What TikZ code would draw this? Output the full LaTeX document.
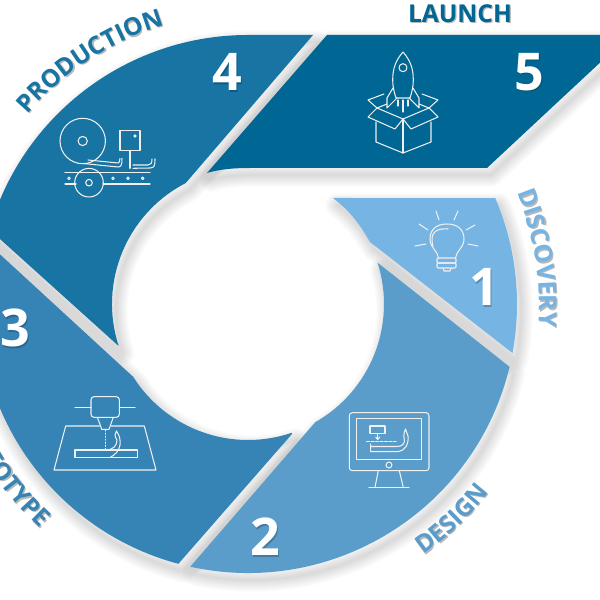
\documentclass[tikz,border=0pt]{standalone}
\usepackage{fontspec}
\setmainfont{Open Sans}
\usetikzlibrary{decorations.text}
\definecolor{cA}{HTML}{76B4E4}
\definecolor{cB}{HTML}{5A9DCB}
\definecolor{cC}{HTML}{3684B6}
\definecolor{cD}{HTML}{1774A3}
\definecolor{cE}{HTML}{006693}
\newcommand\lblfont{\fontsize{24.6}{24.6}\selectfont\bfseries}
\def\segA{(333,402) -- ([shift={(23.2:269)}]248,296) arc[start angle=23.2,end angle=-10.5,radius=269pt] -- (370,358) .. controls (364,368) and (355,385) .. cycle}
\def\segB{(378,337) -- ([shift={(-13.5:269)}]248,296) arc[start angle=-13.5,end angle=-102.4,radius=269pt] -- ([shift={(-60.4:136)}]248,296) arc[start angle=-60.4,end angle=17.5,radius=136pt] -- cycle}
\def\segC{(292,166) -- ([shift={(255:269)}]248,296) arc[start angle=255,end angle=190,radius=269pt] -- (-20,364) -- ([shift={(212.4:136)}]248,296) arc[start angle=212.4,end angle=288.7,radius=136pt] -- cycle}
\def\segD{(313,565) -- ([shift={(117.3:136)}]248,296) arc[start angle=117.3,end angle=198,radius=136pt] -- (-20,379) -- ([shift={(170:269)}]248,296) arc[start angle=170,end angle=90,radius=269pt] -- cycle}
\def\segE{(327,565) -- (620,565) -- (620,556) -- (487,432) -- (250,432) .. controls (235,432) and (220,431) .. (207,427) -- cycle}
\newcommand\softshadow[1]{%
  \begin{scope}[shift={(4,-7)}]
    \foreach \w in {2,4,...,24} {\draw[black,draw opacity=.012,line width=\w pt,line join=round] #1;}
  \end{scope}}
\newcommand\curvelabel[5]{%
  \path[shift={(1.2,-1.2)},decorate,decoration={text along path,text align=center,text={|\lblfont\color{black!28}|#2}}] ([shift={(#4:#3)}]248,296) arc[start angle=#4,end angle=#5,radius=#3 pt];
  \path[decorate,decoration={text along path,text align=center,text={|\lblfont\color{#1}|#2}}] ([shift={(#4:#3)}]248,296) arc[start angle=#4,end angle=#5,radius=#3 pt];}
\tikzset{
  numtext/.style={font=\fontsize{52}{52}\selectfont\bfseries,text=white,inner sep=0pt},
  numshadow/.style={font=\fontsize{52}{52}\selectfont\bfseries,text=black,text opacity=.22,inner sep=0pt},
  ico/.style={draw=white!94!black,line width=1.05pt,line join=round,line cap=round}
}
\begin{document}
\begin{tikzpicture}[x=1pt,y=1pt]
\useasboundingbox (0,0) rectangle (600,600);
\clip (0,0) rectangle (600,600);
\fill[white] (0,0) rectangle (600,600);
\softshadow{\segE}\softshadow{\segD}\softshadow{\segC}\softshadow{\segB}\softshadow{\segA}
\fill[cA] \segA;
\fill[cB] \segB;
\fill[cC] \segC;
\fill[cD] \segD;
\fill[cE] \segE;
% labels
\curvelabel{cA}{DISCOVERY}{291}{34}{-16}
\curvelabel{cD}{PRODUCTION}{291}{153}{93}
\curvelabel{cB}{DESIGN}{306}{-76.5}{-16.5}
\curvelabel{cC}{PROTOTYPE}{306}{183.7}{243.7}
\node[inner sep=0pt,font=\lblfont,text=black!28] (launchs) at (461.2,584.8) {LAUNCH};
\node[inner sep=0pt,font=\lblfont,text=cE] (launch) at (460,586) {LAUNCH};
% numbers
\foreach \n/\x/\y in {1/484/313,2/265/63,3/15/272,4/227/528,5/529/528}{
  \node[numshadow] (ns\n) at (\x+1.2,\y-1.5) {\n};
  \node[numtext] (n\n) at (\x,\y) {\n};
}
% icons in reference pixel coordinates
\begin{scope}[shift={(0,600)},yscale=-1,every path/.append style={ico}]
% bulb
\draw (438.5,258) .. controls (438,251) and (430,248) .. (430,239) .. controls (430,229) and (437,224) .. (447,224) .. controls (457,224) and (464,229) .. (464,239) .. controls (464,248) and (456,251) .. (455.5,258);
\draw (433,246) .. controls (429,232) and (437,228) .. (448,229);
\draw[rounded corners=1pt] (437,258) rectangle (456,263);
\draw[rounded corners=1pt] (437,263) rectangle (456,268);
\draw (443,268) -- (444,271) -- (450,271) -- (451,268);
\draw (436,211) -- (439,220); \draw (458,211) -- (454,220);
\draw (419,224) -- (428,230); \draw (475,225) -- (466,230);
\draw (415,246) -- (426,244); \draw (478,246) -- (468,244);
% rocket
\draw (403,52) .. controls (396,60) and (392.7,68) .. (392.7,80) .. controls (392.7,86) and (394,92) .. (396,98) -- (410,98) .. controls (412,92) and (413.3,86) .. (413.3,80) .. controls (413.3,68) and (410,60) .. (403,52);
\draw (403,67.7) circle (4);
\draw (393,88) -- (387,98) -- (387,108) -- (397,98);
\draw (413,88) -- (419,98) -- (419,108) -- (409,98);
\draw (398,100) -- (398,106); \draw (403,100) -- (403,112); \draw (408,100) -- (408,106);
% box
\draw (384,94) -- (368,100) -- (377,108) -- (387,104);
\draw (422,94) -- (438,100) -- (429,108) -- (419,104);
\draw (377,108) -- (368,117) -- (395,129) -- (403,119) -- cycle;
\draw (429,108) -- (438,117) -- (411,129) -- (403,119) -- cycle;
\draw (376,122) -- (376,142) -- (403,153) -- (431,142) -- (431,122);
\draw (403,119) -- (403,153);
% production
\draw (82.7,141) circle (22.7);
\draw (82.7,141) circle (4.6);
\draw (120,130.7) rectangle (140,150.7);
\draw (135,136) circle (1.2);
\draw (130,150.7) -- (130,168.3);
\draw (83,163.5) -- (118,167) .. controls (121,167) and (122,165) .. (122,158.5);
\draw (88,160) -- (118,163) .. controls (119,163) and (120,161) .. (120,158.5);
\draw (133,168.3) -- (150,168) .. controls (154,168) and (155,166) .. (155,159);
\draw (133,165) -- (148,165) .. controls (151,165) and (152,163) .. (152,159);
\draw (65,172.3) -- (150,172.3);
\draw (65,184) -- (76,184); \draw (103,184) -- (150,184);
\draw (89,182.7) circle (14.3);
\draw (89,182.7) circle (3.3);
\foreach \x in {69,113,128,142.7}{\draw (\x,178.3) circle (1.3);}
% prototype
\draw[rounded corners=3pt] (91,396.7) rectangle (119.3,417.3);
\draw (75,407.7) -- (91,407.7); \draw (119.3,407.7) -- (135,407.7);
\draw (97.3,417.3) -- (99.5,423) -- (101.7,429.3) -- (109,429.3) -- (113.3,417.3);
\draw (99.5,426) -- (65.7,426) -- (54,470) -- (156,470) -- (144.3,426) -- (111,426);
\draw[dotted] (105.3,430) -- (105.3,450);
\draw (75,450) rectangle (137.3,457.7);
\draw (105.3,450) .. controls (113,450) and (117,446) .. (117,440) .. controls (114,436) and (115,433) .. (116.5,431) .. controls (120,436) and (120.5,441) .. (120,445) .. controls (119,451) and (115,455) .. (110,457.5);
% monitor
\draw[rounded corners=3pt] (349.3,412.7) rectangle (429,470.7);
\draw (356.7,418.3) rectangle (421.7,459.3);
\draw (389,465) circle (3);
\draw (378.3,470.7) -- (375,487.3); \draw (399.3,470.7) -- (403.3,487.3);
\draw (369,487.3) -- (409,487.3);
\draw (370,426) rectangle (385,433.3);
\draw (377.7,434.5) -- (377.7,439); \draw (375.7,437) -- (377.7,439.5) -- (379.7,437);
\draw[dash pattern=on 3pt off 1.5pt] (366.7,441.7) -- (396,441.7);
\draw (370.7,444) -- (370.7,451.7) -- (398,451.7) .. controls (405,451) and (409,444) .. (408,436) -- (405.5,429) .. controls (403,434) and (404,438) .. (404.5,441) .. controls (404,445) and (401,446.5) .. (396,446.5) -- (371,446.5);
\end{scope}
\end{tikzpicture}
\end{document}
